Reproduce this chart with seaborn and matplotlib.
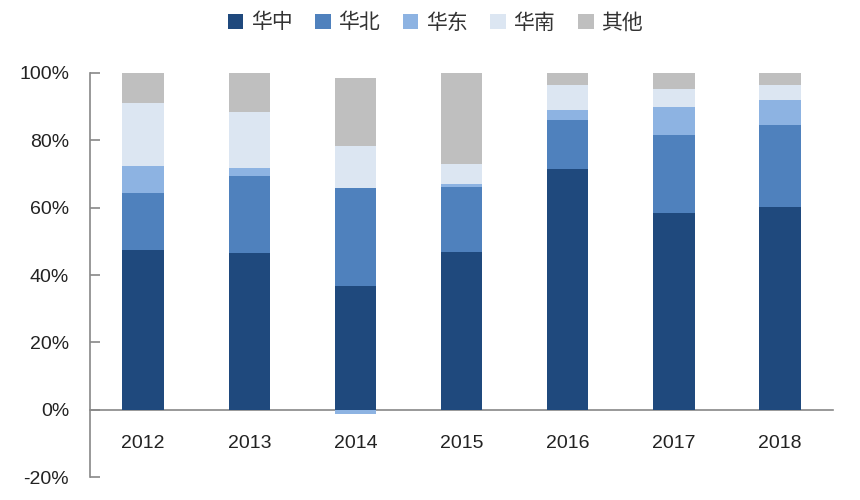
import numpy as np
import pandas as pd
import matplotlib
matplotlib.use("Agg")
import matplotlib.pyplot as plt
from matplotlib.patches import Patch
from matplotlib.ticker import FuncFormatter
import seaborn as sns

years = ["2012", "2013", "2014", "2015", "2016", "2017", "2018"]
series_names = ["华中", "华北", "华东", "华南", "其他"]
huazhong = [47.3, 46.5, 36.7, 46.8, 71.4, 58.5, 60.2]
huabei   = [17.1, 22.8, 29.2, 19.3, 14.7, 23.0, 24.4]
huadong  = [7.9, 2.6, -1.2, 1.0, 2.8, 8.4, 7.4]
huanan   = [18.7, 16.6, 12.4, 6.0, 7.6, 5.2, 4.3]
qita     = [9.0, 11.5, 20.2, 26.9, 3.5, 4.9, 3.7]
colors = ["#1F497D", "#4F81BD", "#8DB3E2", "#DCE6F2", "#BFBFBF"]
yticks = [-20, 0, 20, 40, 60, 80, 100]

sns.set_theme(style="white")
plt.rcParams["font.family"] = ["Liberation Sans", "Noto Sans CJK SC", "DejaVu Sans"]

vals = np.array([huazhong, huabei, huadong, huanan, qita])
pos = np.clip(vals, 0, None)
neg = np.clip(vals, None, 0)
cum_pos = np.cumsum(pos, axis=0)

fig = plt.figure(figsize=(8.6, 5.0), dpi=100)
ax = fig.add_axes([0.1047, 0.046, 0.864, 0.808])

bw = 0.39
# draw cumulative positive totals from the top layer down (overlap stacking)
for i in range(len(series_names) - 1, -1, -1):
    df = pd.DataFrame({"year": years, "v": cum_pos[i]})
    sns.barplot(data=df, x="year", y="v", order=years, color=colors[i],
                saturation=1, width=bw, ax=ax, linewidth=0, errorbar=None)
# negative parts
for i in range(len(series_names)):
    if (neg[i] < 0).any():
        df = pd.DataFrame({"year": years, "v": neg[i]})
        sns.barplot(data=df, x="year", y="v", order=years, color=colors[i],
                    saturation=1, width=bw, ax=ax, linewidth=0, errorbar=None)

ax.set_ylim(-20, 100)
ax.set_xlim(-0.5, 6.5)
ax.set_yticks(yticks)
ax.yaxis.set_major_formatter(FuncFormatter(lambda v, p: f"{int(v)}%"))
ax.set_xlabel("")
ax.set_ylabel("")

for s in ["top", "right"]:
    ax.spines[s].set_visible(False)
ax.spines["left"].set_color("#888888")
ax.spines["left"].set_linewidth(1.2)
ax.spines["bottom"].set_position(("data", 0))
ax.spines["bottom"].set_color("#888888")
ax.spines["bottom"].set_linewidth(1.2)
ax.spines["bottom"].set_zorder(0.5)
ax.tick_params(axis="y", direction="in", length=7, width=1.2, color="#888888",
               labelsize=14, labelcolor="#222222", pad=15, left=True)
ax.tick_params(axis="x", length=0, labelsize=14, labelcolor="#222222", pad=18)
ax.grid(False)

handles = [Patch(facecolor=c, edgecolor="none") for c in colors]
fig.legend(handles, series_names, loc="center", bbox_to_anchor=(0.506, 0.955),
           ncol=5, frameon=False, handlelength=0.75, handleheight=0.75,
           handletextpad=0.35, columnspacing=1.1,
           labelcolor="#333333",
           prop={"family": ["Noto Sans CJK SC", "DejaVu Sans"], "size": 15})

fig.savefig("out.png", dpi=100)
